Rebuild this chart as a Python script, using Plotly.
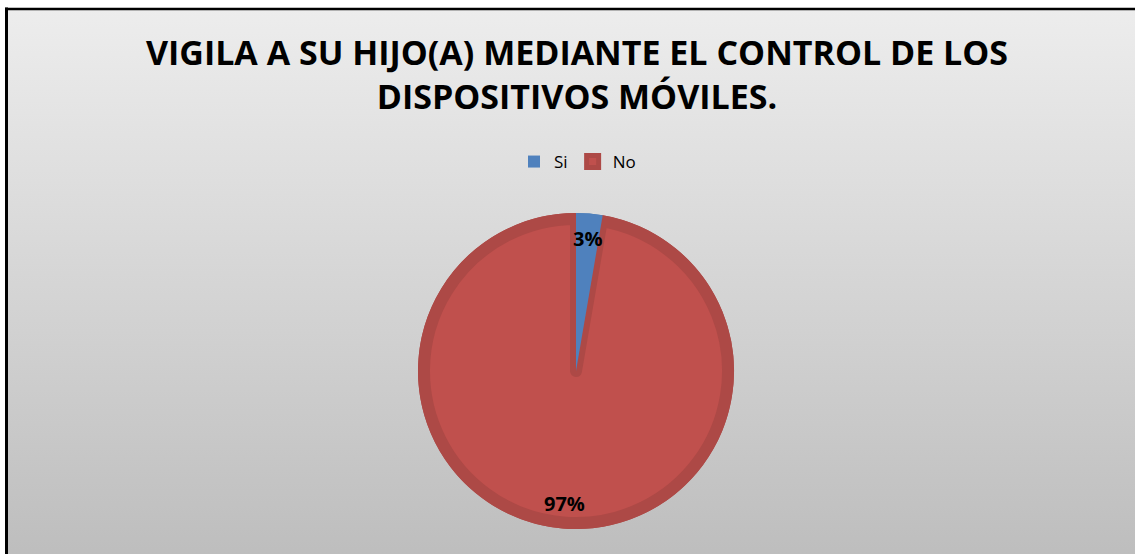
import base64
import math
import plotly.graph_objects as go

labels = ["Si", "No"]
values = [1, 36]
colors = ["#4F81BD", "#C0504D"]
edge_colors = ["#4A78B0", "#AD4946"]

title_text = "VIGILA A SU HIJO(A) MEDIANTE EL CONTROL DE LOS<br>DISPOSITIVOS MÓVILES."

W, H = 1135, 554
off = 8                     # white strip left/top of the chart frame
cx, cy, r = 576, 371, 158   # pie centre / radius in px
edge = 12                   # width of the darker bevel edge

def dom(rad):
    return dict(x=[(cx - rad) / W, (cx + rad) / W],
                y=[(H - cy - rad) / H, (H - cy + rad) / H])

# background gradient as svg
svg = ('<svg xmlns="http://www.w3.org/2000/svg" width="100" height="100" preserveAspectRatio="none">'
       '<defs><linearGradient id="g" x1="0" y1="0" x2="0" y2="1">'
       '<stop offset="0" stop-color="#ededed"/><stop offset="1" stop-color="#bdbdbd"/>'
       '</linearGradient></defs><rect width="100" height="100" fill="url(#g)"/></svg>')
bg = "data:image/svg+xml;base64," + base64.b64encode(svg.encode()).decode()

fig = go.Figure()

# outer darker ring
fig.add_trace(go.Pie(labels=labels, values=values, domain=dom(r), sort=False,
                     direction="clockwise", rotation=0,
                     marker=dict(colors=edge_colors, line=dict(width=0)),
                     textinfo="none", hoverinfo="skip", showlegend=False))
# inner face with darker edges (stroke reaches exactly the outer radius)
fig.add_trace(go.Pie(labels=labels, values=values, domain=dom(r - edge / 2), sort=False,
                     direction="clockwise", rotation=0,
                     marker=dict(colors=colors, line=dict(color=edge_colors, width=[0, edge])),
                     textinfo="none", showlegend=True))
# blue slice on top again
fig.add_trace(go.Pie(labels=labels, values=values, domain=dom(r), sort=False,
                     direction="clockwise", rotation=0,
                     marker=dict(colors=[colors[0], "rgba(0,0,0,0)"], line=dict(width=0)),
                     textinfo="none", hoverinfo="skip", showlegend=False))

# percentage labels near the rim, placed along each slice's mid angle
total = sum(values)
cum = 0
annotations = []
for v in values:
    mid = (cum + v / 2) / total * 2 * math.pi
    cum += v
    px = cx + 0.84 * r * math.sin(mid)
    py = cy - 0.84 * r * math.cos(mid)
    annotations.append(dict(text="%d%%" % round(100 * v / total), x=px / W, y=1 - py / H,
                            xref="paper", yref="paper", showarrow=False,
                            xanchor="center", yanchor="middle",
                            font=dict(family="Open Sans", size=20, color="black", weight="bold")))

fig.update_layout(
    width=W, height=H,
    margin=dict(l=0, r=0, t=0, b=0),
    paper_bgcolor="white",
    title=dict(text=title_text, x=577 / W, xanchor="center", y=1 - 65 / H, yanchor="bottom",
               font=dict(family="Open Sans", size=34, color="black", weight="bold")),
    legend=dict(orientation="h", x=577.5 / W, xanchor="center", y=1 - 144 / H, yanchor="top",
                bgcolor="rgba(0,0,0,0)",
                font=dict(family="Open Sans", size=17, color="black"),
                itemwidth=30, traceorder="normal"),
    annotations=annotations,
    images=[dict(source=bg, xref="paper", yref="paper", x=off / W, y=1 - off / H,
                 sizex=1.0, sizey=1.0, sizing="stretch", xanchor="left", yanchor="top",
                 layer="below")],
    # chart frame: only the left and top edges are inside the window
    shapes=[dict(type="line", xref="paper", yref="paper", x0=6.5 / W, x1=6.5 / W, y0=-0.05,
                 y1=1 - 7.5 / H, line=dict(color="black", width=3)),
            dict(type="line", xref="paper", yref="paper", x0=5 / W, x1=1.02,
                 y0=1 - 9 / H, y1=1 - 9 / H, line=dict(color="black", width=2.5))],
)

# no page margin / scrollbars, so the figure fills the window exactly
fig.write_html("out.html", config={"displayModeBar": False},
               post_script="document.body.style.margin='0';document.body.style.overflow='hidden';")
